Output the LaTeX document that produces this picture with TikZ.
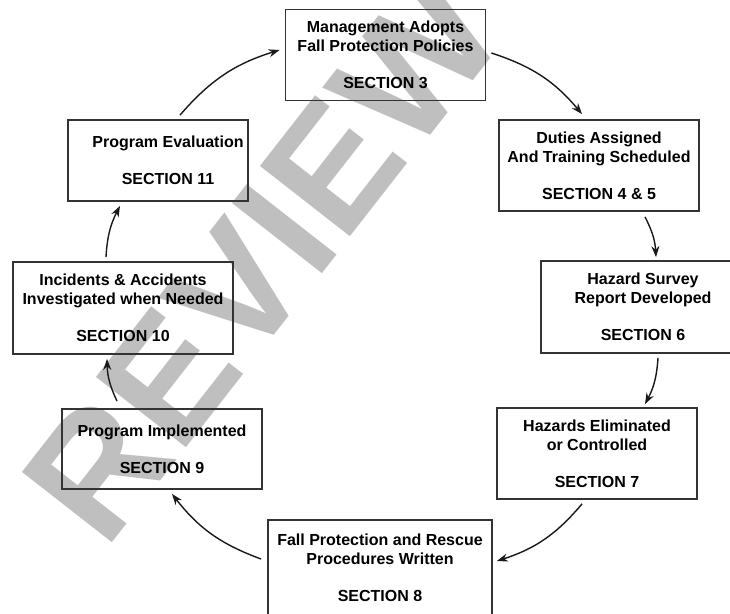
\documentclass[tikz,border=0pt]{standalone}
\usepackage{fontspec}
\setmainfont{Liberation Sans}
\usetikzlibrary{arrows.meta}

\begin{document}
\begin{tikzpicture}[
  x=1pt, y=1pt,
  box/.style={draw=black!80, line width=1.8pt, align=center,
              minimum width=200pt, minimum height=91pt, inner sep=0pt,
              font=\fontsize{16}{19}\selectfont\bfseries},
  flow/.style={-{Stealth[length=11pt,width=8pt]}, line width=1.4pt, black!90},
  stamp/.style={text=black!25, font=\fontsize{166}{166}\selectfont\bfseries}
]
\useasboundingbox (0,0) rectangle (730,-613);

% watermark behind the cycle
\node[stamp, rotate=52] (wm) at (262,-258) {REVIEW};

\node[box] (mgmt)    at (385.5,-55)  {Management Adopts\\Fall Protection Policies\\[18pt]SECTION 3};
\node[box] (duties)  at (599,-165.5) {Duties Assigned\\And Training Scheduled\\[18pt]SECTION 4 \& 5};
\node[box, minimum width=204pt, minimum height=92pt] (survey) at (643,-307) {Hazard Survey\\Report Developed\\[18pt]SECTION 6};
\node[box] (hazards) at (597,-453.5) {Hazards Eliminated\\or Controlled\\[18pt]SECTION 7};
\node[box, minimum width=224pt, minimum height=96pt] (written) at (380,-568) {Fall Protection and Rescue\\Procedures Written\\[18pt]SECTION 8};
\node[box, minimum height=80pt] (implem) at (162,-449) {Program Implemented\\[18pt]SECTION 9};
\node[box, minimum width=220pt, minimum height=92pt] (incid) at (123,-308) {Incidents \& Accidents\\Investigated when Needed\\[18pt]SECTION 10};
\node[box, minimum width=180pt, minimum height=81pt] (evalu) at (158,-160.5) {\hspace*{20pt}Program Evaluation\\[18pt]\hspace*{20pt}SECTION 11};

\draw[flow] ([xshift=5pt,yshift=2pt]mgmt.east)       to[bend left=16] ([xshift=-17pt,yshift=5pt]duties.north);
\draw[flow] ([xshift=46pt,yshift=-5pt]duties.south)  to[bend left=12] ([xshift=13pt,yshift=3pt]survey.north);
\draw[flow] ([xshift=15pt,yshift=-4pt]survey.south)  to[bend left=12] ([xshift=48pt,yshift=3pt]hazards.north);
\draw[flow] ([xshift=-15pt,yshift=-4pt]hazards.south) to[bend left=16] ([xshift=4pt,yshift=7pt]written.east);
\draw[flow] ([xshift=-6pt,yshift=9pt]written.west)   to[bend left=16] ([xshift=10pt,yshift=-4pt]implem.south);
\draw[flow] ([xshift=-45pt,yshift=7pt]implem.north)  to[bend left=12] ([xshift=-16pt,yshift=-4pt]incid.south);
\draw[flow] ([xshift=-17pt,yshift=4pt]incid.north)   to[bend left=12] ([xshift=-38pt,yshift=-4pt]evalu.south);
\draw[flow] ([xshift=22pt,yshift=4pt]evalu.north)    to[bend left=16] ([xshift=-5pt,yshift=5pt]mgmt.west);
\end{tikzpicture}
\end{document}
